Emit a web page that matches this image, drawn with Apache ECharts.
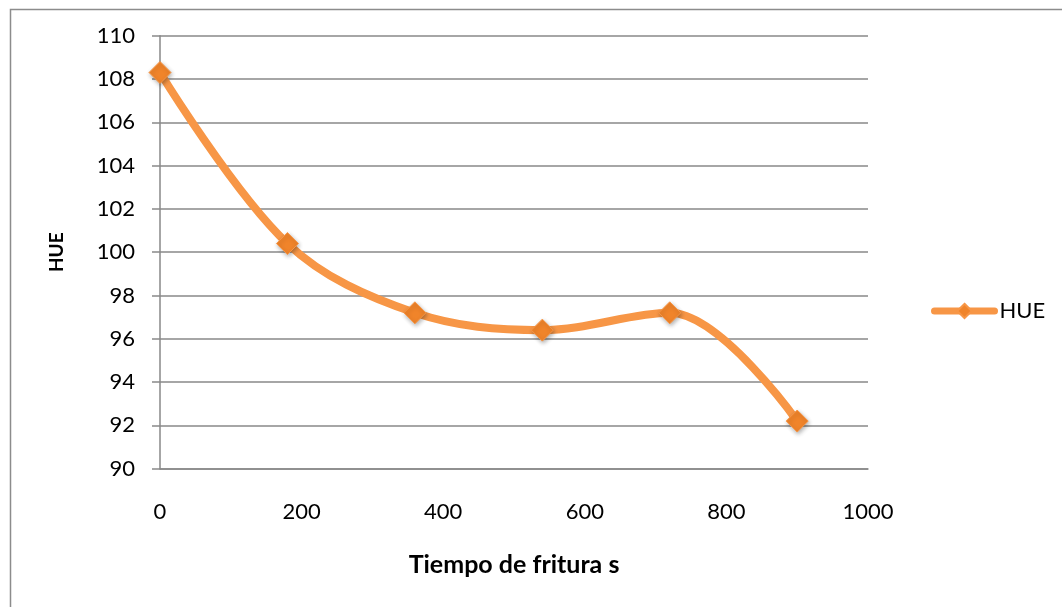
<!DOCTYPE html>
<html>
<head>
<meta charset="utf-8">
<script src="https://cdn.jsdelivr.net/npm/echarts@6/dist/echarts.min.js"></script>
<style>
  html, body { margin: 0; padding: 0; background: #fff; }
  #chart { width: 1062px; height: 607px; }
</style>
</head>
<body>
<div id="chart"></div>
<script>
// Frying time (s) and HUE readings
const fryingTime = [0, 180, 360, 540, 720, 900];
const hueValues = [108.3, 100.4, 97.2, 96.4, 97.2, 92.2];
const seriesName = 'HUE';
const xTitle = 'Tiempo de fritura s';
const yTitle = 'HUE';

const FONT = 'Lato, "Open Sans", sans-serif';
const ORANGE = '#F79646';
const GRID_GRAY = '#898989';

const chart = echarts.init(document.getElementById('chart'), null, { renderer: 'canvas' });

chart.setOption({
  backgroundColor: '#ffffff',
  animation: false,
  graphic: [{
    type: 'rect',
    left: 8, top: 7,
    shape: { width: 1100, height: 700 },
    style: { fill: 'none', stroke: '#8c8c8c', lineWidth: 1.5 },
    silent: true
  }],
  grid: { left: 160, right: 194, top: 35.7, bottom: 138.3 },
  legend: {
    data: [seriesName],
    left: 926, top: 295,
    itemWidth: 60, itemHeight: 18,
    itemGap: 4,
    lineStyle: { width: 7 },
    textStyle: { fontFamily: FONT, fontSize: 22, color: '#000' }
  },
  xAxis: {
    type: 'value',
    min: 0, max: 1000, interval: 200,
    name: xTitle,
    nameLocation: 'middle',
    nameGap: 84,
    nameTextStyle: { fontFamily: FONT, fontSize: 25, fontWeight: 'bold', color: '#000' },
    axisLine: { show: true, lineStyle: { color: GRID_GRAY, width: 1.5 } },
    axisTick: { show: false },
    splitLine: { show: false },
    axisLabel: { margin: 32, fontFamily: FONT, fontSize: 22, color: '#000', formatter: v => String(v) }
  },
  yAxis: {
    type: 'value',
    min: 90, max: 110, interval: 2,
    name: yTitle,
    nameLocation: 'middle',
    nameGap: 94,
    nameRotate: 90,
    nameTextStyle: { fontFamily: FONT, fontSize: 19, fontWeight: 'bold', color: '#000' },
    axisLine: { show: true, lineStyle: { color: GRID_GRAY, width: 1.5 } },
    axisTick: { show: true, inside: false, length: 8, lineStyle: { color: GRID_GRAY, width: 1.5 } },
    splitLine: { show: true, lineStyle: { color: GRID_GRAY, width: 1.5 } },
    axisLabel: { margin: 25, fontFamily: FONT, fontSize: 22, color: '#000' }
  },
  series: [{
    name: seriesName,
    type: 'line',
    data: fryingTime.map((t, i) => [t, hueValues[i]]),
    smooth: 0.35,
    symbol: 'diamond',
    symbolSize: 22,
    lineStyle: { color: ORANGE, width: 8, cap: 'round', join: 'round' },
    itemStyle: {
      color: '#F0842A',
      borderColor: ORANGE,
      borderWidth: 1,
      shadowColor: 'rgba(0,0,0,0.3)',
      shadowBlur: 4,
      shadowOffsetX: 1,
      shadowOffsetY: 2
    },
    z: 3
  }]
});
</script>
</body>
</html>
